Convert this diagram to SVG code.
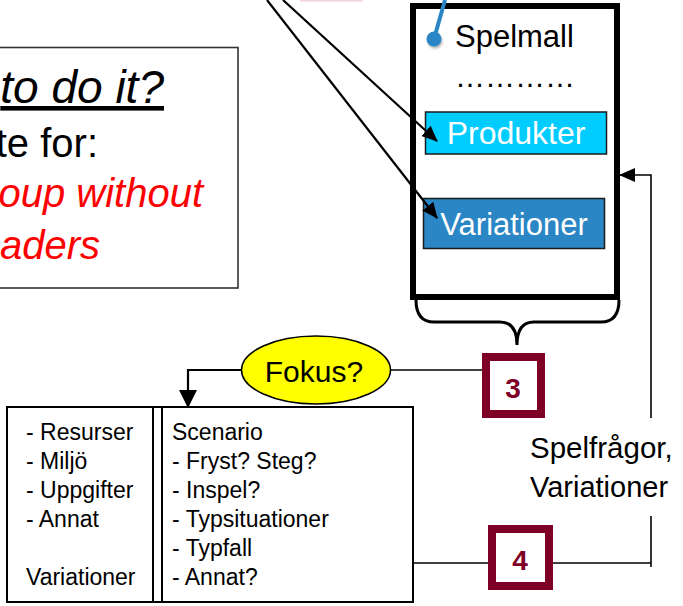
<svg xmlns="http://www.w3.org/2000/svg" width="683" height="606" viewBox="0 0 683 606">
  <style>
    text { font-family: "Liberation Sans", Arial, sans-serif; }
    .conn { fill: none; stroke: #000; stroke-width: 1.6; }
    .conn2 { fill: none; stroke: #000; stroke-width: 2.2; }
    .step { fill: #fff; stroke: #7f0027; stroke-width: 8; }
    .stepnum { font-size: 28px; font-weight: bold; fill: #7f0027; text-anchor: middle; }
    .list { font-size: 23px; fill: #000; }
  </style>
  <defs>
    <marker id="arrow" markerUnits="userSpaceOnUse" markerWidth="16" markerHeight="14" refX="15" refY="7" orient="auto">
      <path d="M0,0 L16,7 L0,14 z" fill="#000"/>
    </marker>
    <marker id="arrowBig" markerUnits="userSpaceOnUse" markerWidth="18" markerHeight="18" refX="17" refY="9" orient="auto">
      <path d="M0,0 L18,9 L0,18 z" fill="#000"/>
    </marker>
    <filter id="pinShadow" x="-50%" y="-50%" width="200%" height="200%">
      <feDropShadow dx="1" dy="2" stdDeviation="1.2" flood-color="#000" flood-opacity="0.3"/>
    </filter>
  </defs>

  <!-- edge of a box above the frame -->
  <rect x="300" y="0" width="63" height="1.5" fill="#f4d4dc"/>

  <!-- question box at left -->
  <g id="question">
    <rect x="-5" y="47.5" width="243" height="240.5" fill="#fff" stroke="#333" stroke-width="1.6"/>
    <text x="164" y="103" font-size="46" font-style="italic" text-anchor="end" text-decoration="underline">to do it?</text>
    <text x="98" y="157" font-size="40" text-anchor="end">te for:</text>
    <text x="203" y="207" font-size="40" font-style="italic" fill="#ff0000" text-anchor="end">oup without</text>
    <text x="100" y="259" font-size="40" font-style="italic" fill="#ff0000" text-anchor="end">aders</text>
  </g>

  <!-- game template -->
  <g id="spelmall">
    <rect x="413" y="6" width="204" height="291" fill="#fff" stroke="#000" stroke-width="6"/>
    <line x1="445" y1="0" x2="434" y2="39" stroke="#2a86c4" stroke-width="4"/>
    <circle cx="434" cy="39" r="7.5" fill="#2a86c4" filter="url(#pinShadow)"/>
    <text x="455" y="47" font-size="31">Spelmall</text>
    <text x="455" y="87" font-size="30">…………</text>
  </g>
  <g id="produkter">
    <rect x="425.5" y="112" width="181" height="42" fill="#00ccff" stroke="#1a1a1a" stroke-width="1.5"/>
    <text x="516" y="144" font-size="32" fill="#fff" text-anchor="middle">Produkter</text>
  </g>
  <g id="variationer">
    <rect x="423.5" y="198.5" width="181" height="50" fill="#2a86c4" stroke="#1a1a1a" stroke-width="1.5"/>
    <text x="514" y="235" font-size="31" fill="#fff" text-anchor="middle">Variationer</text>
  </g>

  <!-- brace under the template -->
  <g id="brace">
    <path d="M416,300 Q416,322 434,322 L500,322 Q517,322 517,345 Q517,322 534,322 L601,322 Q619,322 619,300" fill="none" stroke="#000" stroke-width="3"/>
  </g>

  <!-- focus question -->
  <g id="fokus">
    <ellipse cx="316" cy="370" rx="74.5" ry="34" fill="#ffff00" stroke="#000" stroke-width="1.5"/>
    <text x="314" y="382" font-size="30" text-anchor="middle">Fokus?</text>
  </g>

  <!-- step markers -->
  <g id="step3">
    <rect x="486" y="357" width="55" height="57" class="step"/>
    <text x="513" y="398" class="stepnum">3</text>
  </g>
  <g id="step4">
    <rect x="492" y="529" width="57" height="57" class="step"/>
    <text x="520" y="570" class="stepnum">4</text>
  </g>

  <!-- bottom table -->
  <g id="tabell">
    <rect x="7" y="407" width="406" height="195" fill="#fff" stroke="#000" stroke-width="2"/>
    <line x1="153" y1="407" x2="153" y2="602" stroke="#000" stroke-width="2"/>
    <line x1="162" y1="407" x2="162" y2="602" stroke="#000" stroke-width="2"/>
    <text class="list" x="26" y="440">- Resurser</text>
    <text class="list" x="26" y="469">- Miljö</text>
    <text class="list" x="26" y="498">- Uppgifter</text>
    <text class="list" x="26" y="527">- Annat</text>
    <text class="list" x="26" y="585">Variationer</text>
    <text class="list" x="172" y="440">Scenario</text>
    <text class="list" x="172" y="469">- Fryst? Steg?</text>
    <text class="list" x="172" y="498">- Inspel?</text>
    <text class="list" x="172" y="527">- Typsituationer</text>
    <text class="list" x="172" y="556">- Typfall</text>
    <text class="list" x="172" y="585">- Annat?</text>
  </g>

  <!-- feedback label -->
  <g id="spelfragor">
    <text x="530" y="458" font-size="29.5">Spelfrågor,</text>
    <text x="530" y="497" font-size="29">Variationer</text>
  </g>

  <!-- connectors -->
  <g id="connectors">
    <line class="conn2" x1="283" y1="0" x2="437" y2="141" marker-end="url(#arrow)"/>
    <line class="conn2" x1="267" y1="0" x2="437" y2="218" marker-end="url(#arrow)"/>
    <line class="conn" x1="390" y1="370" x2="482" y2="370"/>
    <polyline class="conn2" points="242,370 188,370 188,407" marker-end="url(#arrowBig)"/>
    <line class="conn" x1="413" y1="563" x2="488" y2="563"/>
    <polyline class="conn" points="553,563 651,563"/>
    <line class="conn" x1="651" y1="567" x2="651" y2="516"/>
    <polyline class="conn" points="651,418 651,175 620,175" marker-end="url(#arrow)"/>
  </g>
</svg>
